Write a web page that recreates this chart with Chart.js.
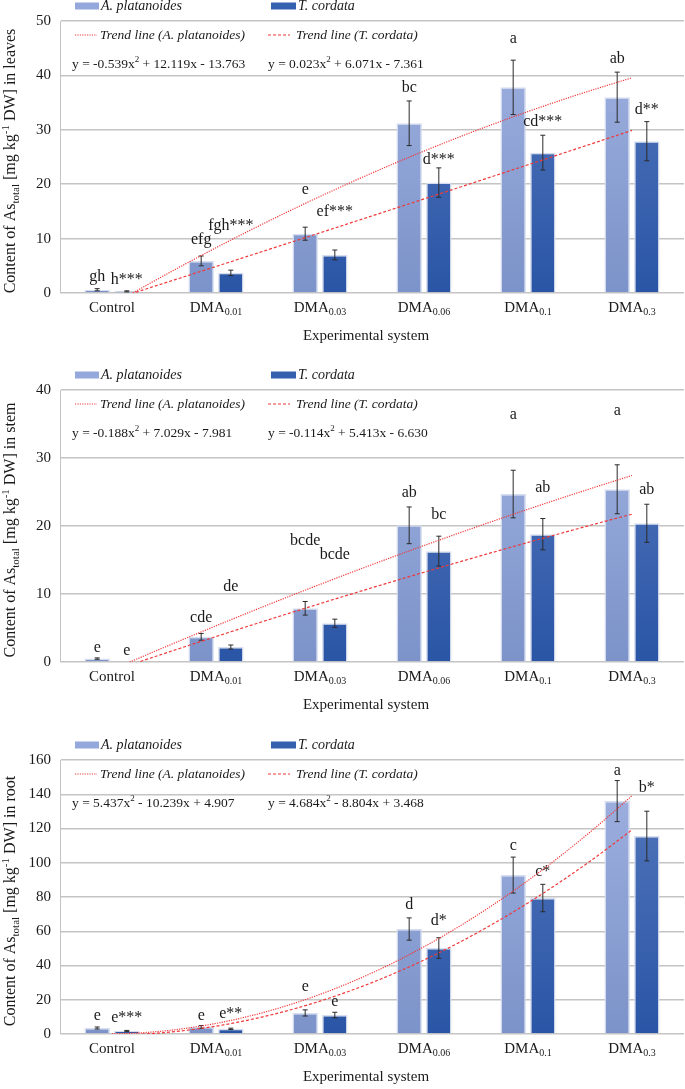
<!DOCTYPE html>
<html><head><meta charset="utf-8">
<script src="https://cdn.jsdelivr.net/npm/chart.js@4.4.0/dist/chart.umd.min.js"></script>
<style>
html,body{margin:0;padding:0;background:#fff;width:685px;height:1089px;overflow:hidden}
canvas{position:absolute;left:0}
canvas.ov{pointer-events:none}
</style></head><body>
<canvas id="c1" width="685" height="350" style="top:0px"></canvas>
<canvas id="c1t" class="ov" width="685" height="350" style="top:0px"></canvas>
<canvas id="c2" width="685" height="370" style="top:350px"></canvas>
<canvas id="c2t" class="ov" width="685" height="370" style="top:350px"></canvas>
<canvas id="c3" width="685" height="369" style="top:720px"></canvas>
<canvas id="c3t" class="ov" width="685" height="369" style="top:720px"></canvas>
<script>
// ---------- DATA ----------
const categories = ['Control', 'DMA0.01', 'DMA0.03', 'DMA0.06', 'DMA0.1', 'DMA0.3'];
const seriesNames = ['A. platanoides', 'T. cordata'];
const xTitle = 'Experimental system';

// leaves
const leavesA = [0.6, 5.9, 10.9, 31.2, 37.8, 36.0];
const leavesT = [0.3, 3.7, 7.0, 20.3, 25.8, 27.9];
const leavesSdA = [0.2, 0.9, 1.2, 4.1, 5.0, 4.6];
const leavesSdT = [0.1, 0.5, 0.9, 2.7, 3.2, 3.6];
const leavesLetA = ['gh', 'efg', 'e', 'bc', 'a', 'ab'];
const leavesLetT = ['h***', 'fgh***', 'ef***', 'd***', 'cd***', 'd**'];
const leavesLetYA = [3.0, 9.8, 19.0, 37.8, 46.7, 43.0];
const leavesLetYT = [2.4, 12.4, 15.0, 24.5, 31.5, 33.6];
const leavesTrendA = [-0.539, 12.119, -13.763];
const leavesTrendT = [0.023, 6.071, -7.361];
const leavesTicks = [0, 50, 10];

// stem
const stemA = [0.5, 3.7, 7.9, 20.1, 24.7, 25.4];
const stemT = [0.0, 2.2, 5.7, 16.3, 18.8, 20.4];
const stemSdA = [0.1, 0.5, 1.0, 2.7, 3.5, 3.6];
const stemSdT = [0.0, 0.3, 0.6, 2.2, 2.3, 2.8];
const stemLetA = ['e', 'cde', 'bcde', 'ab', 'a', 'a'];
const stemLetT = ['e', 'de', 'bcde', 'bc', 'ab', 'ab'];
const stemLetYA = [2.1, 6.5, 17.8, 24.9, 36.3, 36.9];
const stemLetYT = [1.6, 11.0, 15.7, 21.6, 25.6, 25.3];
const stemTrendA = [-0.188, 7.029, -7.981];
const stemTrendT = [-0.114, 5.413, -6.630];
const stemTicks = [0, 40, 10];

// root
const rootA = [3.5, 4.1, 12.3, 61.3, 92.8, 136.0];
const rootT = [1.8, 3.0, 11.1, 50.2, 79.4, 115.6];
const rootSdA = [0.6, 0.8, 1.8, 6.5, 10.5, 12.0];
const rootSdT = [0.3, 0.4, 1.6, 6.0, 8.0, 14.5];
const rootLetA = ['e', 'e', 'e', 'd', 'c', 'a'];
const rootLetT = ['e***', 'e**', 'e', 'd*', 'c*', 'b*'];
const rootLetYA = [10.5, 10.5, 27.4, 75.3, 110.0, 153.6];
const rootLetYT = [9.3, 11.7, 18.7, 66.0, 94.6, 143.6];
const rootTrendA = [5.437, -10.239, 4.907];
const rootTrendT = [4.684, -8.804, 3.468];
const rootTicks = [0, 160, 20];

// ---------- RENDERING ----------
const FONT = 'Liberation Serif';
const TXT = '#1a1a1a';
const RED = '#f0393a';
Chart.defaults.font.family = FONT;

function fnt(size, italic) { return (italic ? 'italic ' : '') + size + 'px "' + FONT + '"'; }

function drawRich(ctx, parts, x, y, align, size, italic) {
  const small = Math.round(size * 0.68);
  let w = 0;
  parts.forEach(p => { ctx.font = fnt(p.s ? small : size, italic); w += ctx.measureText(p.t).width; });
  let cx = align === 'center' ? x - w / 2 : x;
  ctx.textAlign = 'left';
  ctx.textBaseline = 'middle';
  parts.forEach(p => {
    ctx.font = fnt(p.s ? small : size, italic);
    const dy = p.s === 'sub' ? size * 0.3 : (p.s === 'sup' ? -size * 0.3 : 0);
    ctx.fillText(p.t, cx, y + dy);
    cx += ctx.measureText(p.t).width;
  });
}

function catParts(c) {
  if (c.startsWith('DMA')) return [{ t: 'DMA' }, { t: c.slice(3), s: 'sub' }];
  return [{ t: c }];
}

function num(v) { return Math.abs(v).toFixed(3); }
function eqParts(c) {
  return [
    { t: 'y = ' + (c[0] < 0 ? '-' : '') + num(c[0]) + 'x' },
    { t: '2', s: 'sup' },
    { t: (c[1] < 0 ? ' - ' : ' + ') + num(c[1]) + 'x' + (c[2] < 0 ? ' - ' : ' + ') + num(c[2]) }
  ];
}

function trendPoints(c) {
  const pts = [];
  for (let i = 0; i <= 100; i++) {
    const x = 1 + i * 0.05;
    pts.push({ x: x, y: c[0] * x * x + c[1] * x + c[2] });
  }
  return pts;
}

function gradFill(top, bottom) {
  return function (ctx) {
    const ch = ctx.chart; const a = ch.chartArea;
    if (!a) return bottom;
    const g = ch.ctx.createLinearGradient(0, a.top, 0, a.bottom);
    g.addColorStop(0, top); g.addColorStop(1, bottom);
    return g;
  };
}

function makeOverlay(cfg) {
  return {
    id: 'overlay',
    afterDatasetsDraw(chart) {
      const ctx = chart.ctx; const ys = chart.scales.y;
      const vals = [cfg.a, cfg.t], sds = [cfg.sdA, cfg.sdT];
      const lets = [cfg.letA, cfg.letT], letY = [cfg.letYA, cfg.letYT];
      ctx.save();
      for (let d = 0; d < 2; d++) {
        const meta = chart.getDatasetMeta(d);
        meta.data.forEach((el, i) => {
          const v = vals[d][i], sd = sds[d][i];
          if (sd > 0) {
            const y1 = ys.getPixelForValue(v + sd), y2 = ys.getPixelForValue(v - sd);
            ctx.strokeStyle = '#2a2a2a'; ctx.lineWidth = 1; ctx.setLineDash([]);
            ctx.beginPath();
            ctx.moveTo(el.x, y1); ctx.lineTo(el.x, y2);
            ctx.moveTo(el.x - 2.5, y1); ctx.lineTo(el.x + 2.5, y1);
            ctx.moveTo(el.x - 2.5, y2); ctx.lineTo(el.x + 2.5, y2);
            ctx.stroke();
          }
          ctx.fillStyle = TXT; ctx.font = fnt(16); ctx.textAlign = 'center'; ctx.textBaseline = 'middle';
          ctx.fillText(lets[d][i], el.x, ys.getPixelForValue(letY[d][i]));
        });
      }
      ctx.restore();
    },
    afterDraw(chart) {
      const ctx = chart.ctx; const a = chart.chartArea; const xs = chart.scales.x;
      ctx.save();
      ctx.fillStyle = TXT;
      categories.forEach((c, i) => {
        drawRich(ctx, catParts(c), xs.getPixelForValue(i), a.bottom + 15, 'center', 15);
      });
      ctx.font = fnt(15); ctx.textAlign = 'center'; ctx.textBaseline = 'middle';
      ctx.fillText(xTitle, (a.left + a.right) / 2 - 6, a.bottom + 43);
      ctx.save();
      ctx.translate(11, (a.top + a.bottom) / 2 + 4);
      ctx.rotate(-Math.PI / 2);
      drawRich(ctx, [{ t: 'Content of As' }, { t: 'total', s: 'sub' }, { t: ' [mg kg' }, { t: '-1', s: 'sup' }, { t: ' DW] in ' + cfg.organ }], 0, 0, 'center', 16);
      ctx.restore();
      const ly = a.top - 15;
      ctx.fillStyle = '#94a8dc'; ctx.fillRect(75, ly - 3.5, 24, 7);
      ctx.fillStyle = '#3560b0'; ctx.fillRect(271, ly - 3.5, 25, 7);
      ctx.fillStyle = TXT;
      drawRich(ctx, [{ t: seriesNames[0] }], 101, ly, 'left', 14, true);
      drawRich(ctx, [{ t: seriesNames[1] }], 298, ly, 'left', 14, true);
      const ty = a.top + 14;
      ctx.strokeStyle = RED; ctx.lineWidth = 1.2;
      ctx.setLineDash([1.2, 1.2]);
      ctx.beginPath(); ctx.moveTo(75, ty); ctx.lineTo(97, ty); ctx.stroke();
      ctx.setLineDash([3, 2]);
      ctx.beginPath(); ctx.moveTo(268, ty); ctx.lineTo(290, ty); ctx.stroke();
      ctx.setLineDash([]);
      drawRich(ctx, [{ t: 'Trend line (' + seriesNames[0] + ')' }], 100, ty, 'left', 13.5, true);
      drawRich(ctx, [{ t: 'Trend line (' + seriesNames[1] + ')' }], 296, ty, 'left', 13.5, true);
      const ey = a.top + 43;
      drawRich(ctx, eqParts(cfg.trendA), 72, ey, 'left', 13.5);
      drawRich(ctx, eqParts(cfg.trendT), 268, ey, 'left', 13.5);
      ctx.restore();
    }
  };
}

function commonLayout(cfg, H, visible) {
  return {
    x: { type: visible ? 'category' : 'linear', offset: visible, min: visible ? undefined : 0.5, max: visible ? undefined : 6.5,
         grid: { display: false, drawTicks: false }, border: { display: false },
         ticks: { display: false }, afterFit(s) { s.height = H - cfg.plotBottom; } },
    y: { type: 'linear', min: cfg.ticks[0], max: cfg.ticks[1],
         ticks: { stepSize: cfg.ticks[2], font: { family: FONT, size: 15 }, color: visible ? TXT : 'rgba(0,0,0,0)', padding: 9 },
         grid: { display: visible, color: '#c4c4c4', lineWidth: 1.5, drawTicks: false },
         border: { display: visible, color: '#c4c4c4', width: 1 },
         afterFit(s) { s.width = 60; } }
  };
}

function makeChart(id, cfg) {
  const canvas = document.getElementById(id);
  const H = canvas.height;
  const pad = { top: cfg.plotTop, right: 1, left: 0, bottom: 0 };
  new Chart(canvas, {
    type: 'bar',
    data: {
      labels: categories,
      datasets: [
        { label: seriesNames[0], data: cfg.a,
          backgroundColor: gradFill('#a0b2e1', '#7c93c9'), borderColor: '#d5ddef', borderWidth: 1.5,
          categoryPercentage: 0.57, barPercentage: 0.86 },
        { label: seriesNames[1], data: cfg.t,
          backgroundColor: gradFill('#5679bd', '#2a55a6'), borderColor: '#d5ddef', borderWidth: 1.5,
          categoryPercentage: 0.57, barPercentage: 0.86 }
      ]
    },
    options: {
      responsive: false, animation: false, devicePixelRatio: 1,
      layout: { padding: pad },
      plugins: { legend: { display: false }, tooltip: { enabled: false } },
      scales: commonLayout(cfg, H, true)
    },
    plugins: [makeOverlay(cfg)]
  });
  // trend lines drawn on a transparent chart with the identical plot area
  new Chart(document.getElementById(id + 't'), {
    type: 'line',
    data: {
      datasets: [
        { label: 'Trend line (' + seriesNames[0] + ')', data: trendPoints(cfg.trendA),
          borderColor: RED, borderWidth: 1.2, borderDash: [1.2, 1.2], pointRadius: 0, fill: false, tension: 0, clip: 0 },
        { label: 'Trend line (' + seriesNames[1] + ')', data: trendPoints(cfg.trendT),
          borderColor: RED, borderWidth: 1.2, borderDash: [3, 2], pointRadius: 0, fill: false, tension: 0, clip: 0 }
      ]
    },
    options: {
      responsive: false, animation: false, devicePixelRatio: 1,
      layout: { padding: pad },
      plugins: { legend: { display: false }, tooltip: { enabled: false } },
      scales: commonLayout(cfg, H, false)
    }
  });
}

makeChart('c1', { a: leavesA, t: leavesT, sdA: leavesSdA, sdT: leavesSdT, letA: leavesLetA, letT: leavesLetT,
  letYA: leavesLetYA, letYT: leavesLetYT, trendA: leavesTrendA, trendT: leavesTrendT, ticks: leavesTicks,
  organ: 'leaves', plotTop: 21, plotBottom: 293 });
makeChart('c2', { a: stemA, t: stemT, sdA: stemSdA, sdT: stemSdT, letA: stemLetA, letT: stemLetT,
  letYA: stemLetYA, letYT: stemLetYT, trendA: stemTrendA, trendT: stemTrendT, ticks: stemTicks,
  organ: 'stem', plotTop: 40, plotBottom: 312 });
makeChart('c3', { a: rootA, t: rootT, sdA: rootSdA, sdT: rootSdT, letA: rootLetA, letT: rootLetT,
  letYA: rootLetYA, letYT: rootLetYT, trendA: rootTrendA, trendT: rootTrendT, ticks: rootTicks,
  organ: 'root', plotTop: 40, plotBottom: 314 });
</script>
</body></html>
